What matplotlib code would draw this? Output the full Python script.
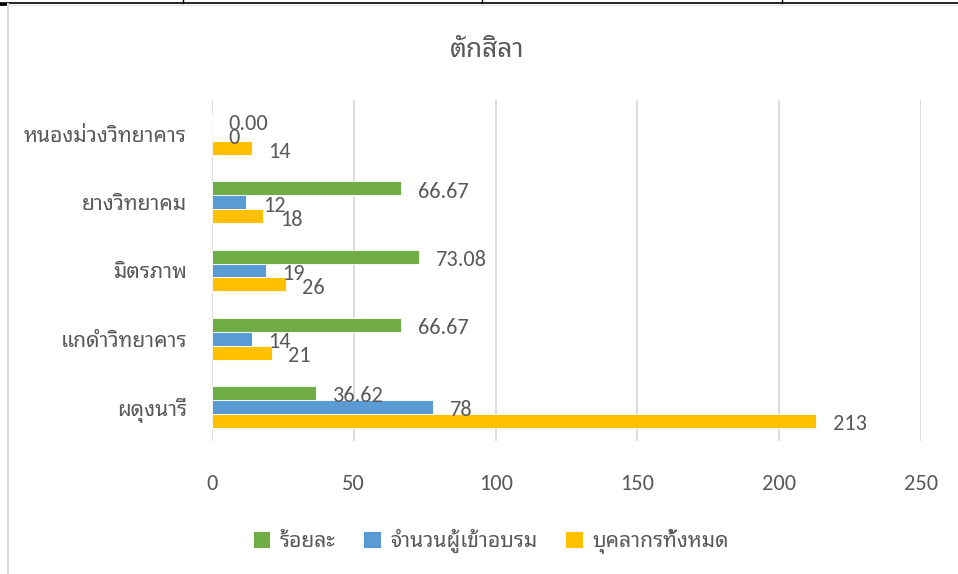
import matplotlib
matplotlib.use("Agg")
import matplotlib.pyplot as plt
from matplotlib.lines import Line2D
import numpy as np

plt.rcParams['font.family'] = ['Carlito', 'Noto Sans Thai Looped', 'DejaVu Sans']

# data (bottom to top, as drawn)
schools = ["ผดุงนารี", "แกดำวิทยาคาร", "มิตรภาพ", "ยางวิทยาคม", "หนองม่วงวิทยาคาร"]
percent = [36.62, 66.67, 73.08, 66.67, 0.00]
trained = [78, 14, 19, 12, 0]
staff = [213, 21, 26, 18, 14]
series_names = ["ร้อยละ", "จำนวนผู้เข้าอบรม", "บุคลากรทั้งหมด"]
title = "ตักสิลา"
xticks = [0, 50, 100, 150, 200, 250]

GREEN = "#70AD47"
BLUE = "#5B9BD5"
YELLOW = "#FFC000"
TXT = "#595959"
THAI = ['Noto Sans Thai Looped', 'Carlito']

fig = plt.figure(figsize=(9.58, 5.74), dpi=100)
ax = fig.add_axes([212/958, 1 - 441/574, (921-212)/958, 341/574])

y = np.arange(len(schools))
h = 0.205
b1 = ax.barh(y + h, percent, height=h, color=GREEN, edgecolor="white", linewidth=0.6)
b2 = ax.barh(y, trained, height=h, color=BLUE, edgecolor="white", linewidth=0.6)
b3 = ax.barh(y - h, staff, height=h, color=YELLOW, edgecolor="white", linewidth=0.6)

for vals, off, fmt in [(percent, h, "{:.2f}"), (trained, 0, "{:d}"), (staff, -h, "{:d}")]:
    for i, v in enumerate(vals):
        ax.annotate(fmt.format(v), xy=(v, i + off), xytext=(12, -2.5),
                    textcoords="offset points", ha="left", va="center",
                    fontsize=16, color=TXT)

ax.set_xlim(0, 250)
ax.set_ylim(-0.5, len(schools) - 0.5)
ax.set_xticks(xticks)
ax.set_yticks(y)
ax.set_yticklabels(schools, family=THAI, fontsize=15.2)
ax.tick_params(axis="x", length=0, labelsize=16, labelcolor=TXT, pad=24)
ax.tick_params(axis="y", length=0, labelcolor=TXT, pad=18)
ax.grid(axis="x", color="#d9d9d9", linewidth=1.3)
ax.set_axisbelow(True)
for s in ax.spines.values():
    s.set_visible(False)

fig.text(487/958, 1 - 50/574, title, ha="center", va="center", fontsize=19,
         color=TXT, family=THAI)

leg = fig.legend([b1, b2, b3], series_names, loc="center", bbox_to_anchor=(491/958, 1 - 541/574),
                 ncol=3, frameon=False, labelcolor=TXT,
                 prop={'family': THAI, 'size': 15.2},
                 handlelength=0.85, handleheight=0.85, handletextpad=0.45, columnspacing=1.3)

# page border pieces around the chart
fig.add_artist(Line2D([0, 1], [1 - 3/574, 1 - 3/574], color="black", linewidth=1.2))
fig.add_artist(Line2D([0, 7/958], [1 - 4/574, 1 - 4/574], color="black", linewidth=2))
for px in [183, 482, 782]:
    fig.add_artist(Line2D([px/958, px/958], [1 - 3/574, 1], color="black", linewidth=1))
fig.add_artist(Line2D([7.5/958, 7.5/958], [0, 1 - 4/574], color="#d9d9d9", linewidth=1.5))
fig.add_artist(Line2D([7/958, 1], [1 - 5/574, 1 - 5/574], color="#e6e6e6", linewidth=1))

fig.savefig("out.png", dpi=100)
